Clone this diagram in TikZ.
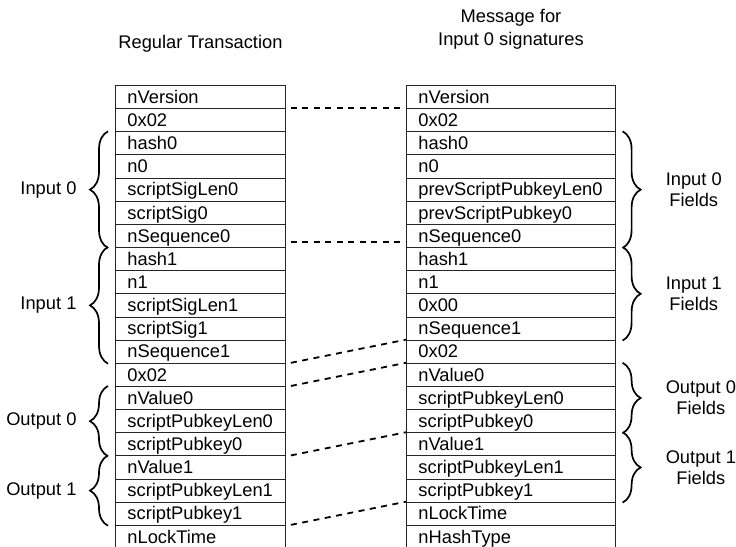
\documentclass[tikz,border=0pt]{standalone}
\usepackage{fontspec}
\setmainfont{Liberation Sans}
\usetikzlibrary{decorations.pathreplacing}
\hyphenpenalty=10000

\tikzstyle{field} = [draw=black!85,line width=0.9pt,rectangle,anchor=north west,minimum height=23.15pt,inner ysep=0pt,inner xsep=12pt,text height=15.5pt,text depth=3pt,align=left,font=\fontsize{18.3pt}{21pt}\selectfont]
\tikzstyle{left field} = [field,text width=146pt]
\tikzstyle{right field} = [field,text width=185pt]
\tikzstyle{title} = [inner sep=0pt,align=center,font=\fontsize{18.3pt}{23.5pt}\selectfont]
\tikzstyle{brace label} = [inner sep=0pt,align=center,font=\fontsize{18.3pt}{21pt}\selectfont]
\tikzstyle{brace edge} = [draw,line width=1.7pt,decorate,decoration={brace,amplitude=18pt}]
\tikzstyle{link edge} = [draw,line width=1.8pt,dash pattern=on 6pt off 5.5pt,-]

\begin{document}
\begin{tikzpicture}[x=1pt,y=-1pt]
      \useasboundingbox (0,0) rectangle (736,546);
      % fields
      \foreach \i/\name in {
        0/nVersion, 1/0x02, 2/hash0, 3/n0, 4/scriptSigLen0, 5/scriptSig0,
        6/nSequence0, 7/hash1, 8/n1, 9/scriptSigLen1, 10/scriptSig1,
        11/nSequence1, 12/0x02, 13/nValue0, 14/scriptPubkeyLen0,
        15/scriptPubkey0, 16/nValue1, 17/scriptPubkeyLen1, 18/scriptPubkey1,
        19/nLockTime}
      {
        \node[left field] (L\i) at (115,85+23.15*\i) {\name};
      };
      \foreach \i/\name in {
        0/nVersion, 1/0x02, 2/hash0, 3/n0, 4/prevScriptPubkeyLen0,
        5/prevScriptPubkey0, 6/nSequence0, 7/hash1, 8/n1, 9/0x00,
        10/nSequence1, 11/0x02, 12/nValue0, 13/scriptPubkeyLen0,
        14/scriptPubkey0, 15/nValue1, 16/scriptPubkeyLen1, 17/scriptPubkey1,
        18/nLockTime, 19/nHashType}
      {
        \node[right field] (R\i) at (406,85+23.15*\i) {\name};
      };
      % titles
      \node[title,anchor=base] (regular) at ([yshift=36.7pt]L0.north) {Regular Transaction};
      \node[title,anchor=south] (message) at ([yshift=35.2pt]R0.north) {Message for\\Input 0 signatures};
      % braces
      \foreach \ra/\rb/\txt/\nm in {2/6/Input 0/lin0, 7/11/Input 1/lin1,
        13/15/Output 0/lout0, 16/18/Output 1/lout1}
      {
        \draw[brace edge] ([xshift=-7pt]L\rb.south west) -- ([xshift=-7pt]L\ra.north west)
          node[brace label,midway,left=30.7pt] (\nm) {\txt};
      };
      \foreach \ra/\rb/\txt/\nm in {2/6/Input 0/rin0, 7/10/Input 1/rin1,
        12/14/Output 0/rout0, 15/17/Output 1/rout1}
      {
        \draw[brace edge] ([xshift=6.7pt]R\ra.north east) -- ([xshift=6.7pt]R\rb.south east)
          node[brace label,midway,right=42.3pt] (\nm) {\txt\\Fields};
      };
      %edges
      \path
      \foreach \startnode/\endnode in {1/1, 12/11, 13/12, 16/15, 19/18}
      {
        ([xshift=5pt]L\startnode.north east) edge[link edge] (R\endnode.north west)
      };
      \path ([xshift=5pt,yshift=6pt]L6.south east) edge[link edge] ([yshift=6pt]R6.south west);
\end{tikzpicture}
\end{document}
